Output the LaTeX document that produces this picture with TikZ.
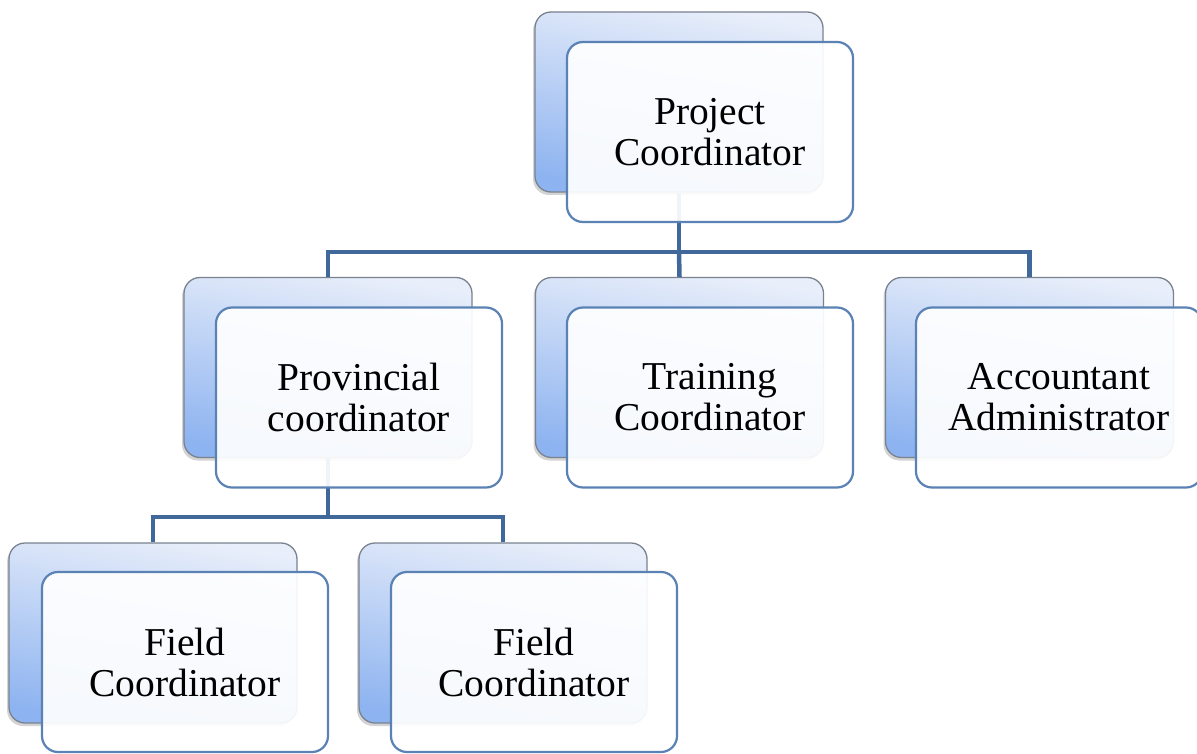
\documentclass[tikz,border=0pt]{standalone}
\usepackage{fontspec}
\setmainfont{Liberation Serif}
\usetikzlibrary{shadows}
\definecolor{connc}{HTML}{41689A}
\definecolor{frontc}{HTML}{5A82B5}
\definecolor{backc}{HTML}{7A8290}
\definecolor{shadetop}{HTML}{E8EEFA}
\definecolor{shadebot}{HTML}{8DB3F0}
\tikzset{
  backbox/.style={draw=backc, line width=1.3pt, rounded corners=16pt,
    minimum width=288pt, minimum height=180pt, inner sep=0pt,
    top color=shadetop, bottom color=shadebot, shading angle=-10,
    drop shadow={shadow xshift=-2pt, shadow yshift=-3pt, opacity=0.35}},
  frontbox/.style={draw=frontc, line width=2.2pt, rounded corners=16pt,
    minimum width=286pt, minimum height=180pt, inner sep=0pt,
    fill=white, fill opacity=0.92, text opacity=1, align=center,
    font=\fontsize{39.5}{41}\selectfont},
  conn/.style={draw=connc, line width=4.5pt}
}
\begin{document}
\begin{tikzpicture}[x=1pt,y=-1pt]
\useasboundingbox (0,0) rectangle (1197,754);
\clip (0,0) rectangle (1197,754);
% back boxes
\node[backbox] (pcb) at (679,102) {};
\node[backbox] (prb) at (328,367.5) {};
\node[backbox] (trb) at (679.5,367.5) {};
\node[backbox] (acb) at (1029.5,367.5) {};
\node[backbox] (f1b) at (153,633) {};
\node[backbox] (f2b) at (503,633) {};
% bus coordinates
\coordinate (bus1) at (679,252);
\coordinate (bus2) at (328,517);
% connectors
\draw[conn] (pcb.south) -- (bus1);
\draw[conn] (bus1) -| (prb.north);
\draw[conn] (bus1) -- (trb.north);
\draw[conn] (bus1) -| (acb.north);
\draw[conn] (prb.south) -- (bus2);
\draw[conn] (bus2) -| (f1b.north);
\draw[conn] (bus2) -| (f2b.north);
% front boxes
\node[frontbox] (pc) at (710,132) {Project\\Coordinator};
\node[frontbox] (pr) at (359,397.5) {Provincial\\coordinator};
\node[frontbox] (tr) at (710,397.5) {Training\\Coordinator};
\node[frontbox] (ac) at (1059,397.5) {Accountant\\Administrator};
\node[frontbox] (f1) at (185,662) {Field\\Coordinator};
\node[frontbox] (f2) at (534,662) {Field\\Coordinator};
\end{tikzpicture}
\end{document}
